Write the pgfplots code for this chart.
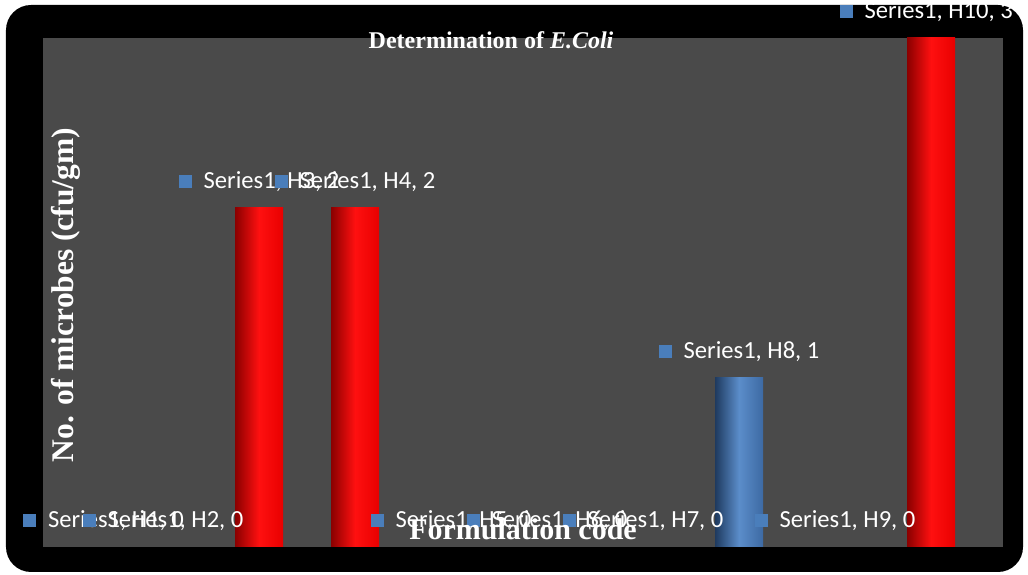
\documentclass[border=0pt]{standalone}
\usepackage{pgfplots}
\pgfplotsset{compat=1.18}
\usepackage{pgfplotstable}
\usepackage{fontspec}
\setmainfont{Liberation Serif}
\newfontfamily\labfont{Carlito}
\definecolor{plotgray}{HTML}{4A4A4A}
\definecolor{mkblue}{HTML}{4A7EBB}
\definecolor{redL}{HTML}{8A0000}
\definecolor{redM}{HTML}{FF1010}
\definecolor{redR}{HTML}{E80000}
\definecolor{bluL}{HTML}{1E3A5F}
\definecolor{bluM}{HTML}{5B8DCA}
\definecolor{bluR}{HTML}{3D6AA3}

\pgfplotstableread{
x y lab
1.38 0 H1
2 0 H2
3 2 H3
4 2 H4
5 0 H5
6 0 H6
7 0 H7
8 1 H8
9 0 H9
9.95 3 H10
}\labels

\newcommand{\mk}{\textcolor{mkblue}{\raisebox{0.5pt}{\rule{13pt}{13pt}}}\hspace{12pt}}

\begin{document}
\begin{tikzpicture}
\fill[white] (-43pt,-28pt) rectangle (985pt,547pt);
\path[use as bounding box] (-43pt,-28pt) rectangle (985pt,547pt);
\fill[black, rounded corners=25pt] (-37pt,-25pt) rectangle (980pt,542pt);
\begin{axis}[
  at={(0pt,0pt)}, anchor=south west,
  width=960pt, height=509pt, scale only axis,
  xmin=0.75, xmax=10.75, ymin=0, ymax=3,
  axis line style={draw=none}, ticks=none,
  axis background/.style={fill=plotgray},
  clip=false,
  redbar/.style={ybar, bar width=0.5, bar shift=0pt, draw=none,
    left color=redL, right color=redR, middle color=redM},
  title={\bfseries Determination of \textit{E.Coli}},
  title style={at={(axis description cs:0.4667,0.984)}, anchor=center,
    font=\fontsize{24}{26}\selectfont, text=white},
  ylabel={\bfseries No. of microbes (cfu/gm)},
  ylabel style={at={(axis description cs:0.024,0.495)}, anchor=center,
    font=\fontsize{31.5}{34}\selectfont, text=white},
  xlabel={\bfseries Formulation code},
  xlabel style={at={(axis description cs:0.5,0.035)}, anchor=center,
    font=\fontsize{30}{33}\selectfont, text=white},
]
\addplot[redbar] coordinates {(3,2)};
\addplot[redbar] coordinates {(4,2)};
\addplot[redbar] coordinates {(10,3)};
\addplot[ybar, bar width=0.5, bar shift=0pt, draw=none,
  left color=bluL, right color=bluR, middle color=bluM] coordinates {(8,1)};
\addplot[draw=none, mark=none,
  point meta=explicit symbolic,
  visualization depends on={\thisrow{y} \as \yv},
  nodes near coords={\mk Series1, \pgfplotspointmeta, \pgfmathprintnumber[assume math mode=true]{\yv}},
  every node near coord/.style={anchor=center, yshift=26pt, text=white,
    font=\labfont\fontsize{24.6}{27}\selectfont, inner sep=0pt}
] table[x=x,y=y,meta=lab] {\labels};
\end{axis}
\end{tikzpicture}
\end{document}
